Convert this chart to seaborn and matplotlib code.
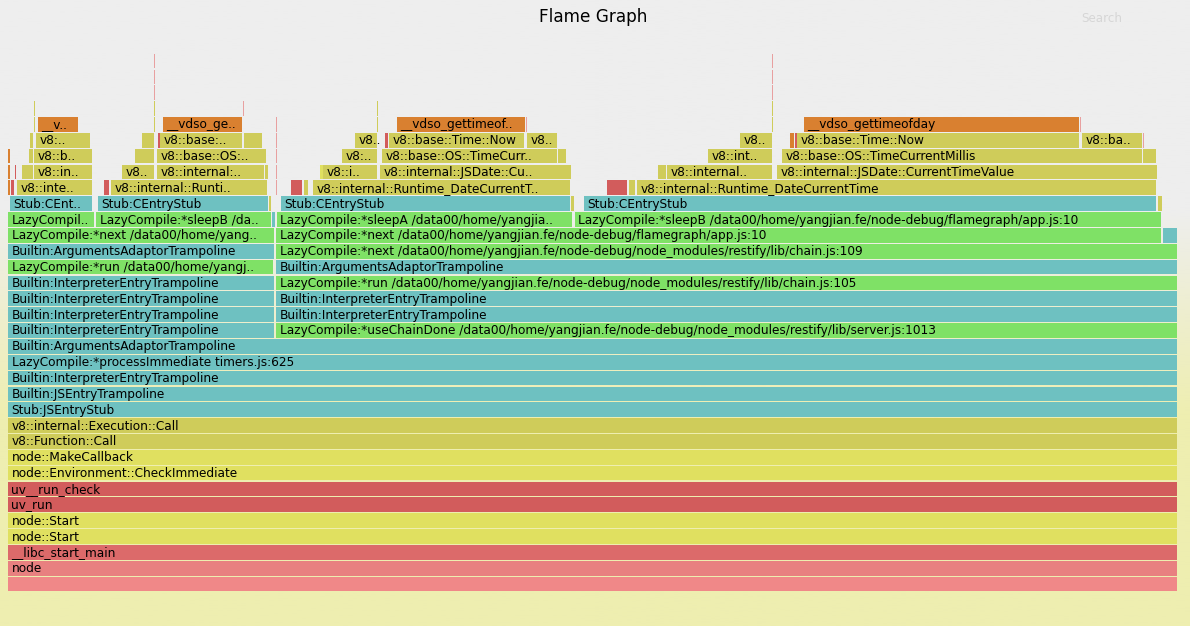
import numpy as np
import matplotlib
matplotlib.use("Agg")
import matplotlib.pyplot as plt
import matplotlib.colors as mcolors
import seaborn as sns

# Flame graph data (sample units, total = 1170)
total_samples = 1170

# bottom of the stack, every frame full width (depth 0..15)
base_labels = ["", "node", "__libc_start_main", "node::Start", "node::Start",
               "uv_run", "uv__run_check", "node::Environment::CheckImmediate",
               "node::MakeCallback", "v8::Function::Call",
               "v8::internal::Execution::Call", "Stub:JSEntryStub",
               "Builtin:JSEntryTrampoline", "Builtin:InterpreterEntryTrampoline",
               "LazyCompile:*processImmediate timers.js:625",
               "Builtin:ArgumentsAdaptorTrampoline"]
base_kinds = ["root", "node", "libc", "cpp", "cpp", "sys", "sys", "cpp", "cpp",
              "v8", "v8", "builtin", "builtin", "builtin", "builtin", "builtin"]

# (depth, start, samples, label, kind)
left_stack = [
    (16, 0, 267, "Builtin:InterpreterEntryTrampoline", "builtin"),
    (17, 0, 267, "Builtin:InterpreterEntryTrampoline", "builtin"),
    (18, 0, 267, "Builtin:InterpreterEntryTrampoline", "builtin"),
    (19, 0, 267, "Builtin:InterpreterEntryTrampoline", "builtin"),
    (20, 0, 266, "LazyCompile:*run /data00/home/yangj..", "js"),
    (21, 0, 267, "Builtin:ArgumentsAdaptorTrampoline", "builtin"),
    (22, 0, 267, "LazyCompile:*next /data00/home/yang..", "js"),
]

right_stack = [
    (16, 268, 902, "LazyCompile:*useChainDone /data00/home/yangjian.fe/node-debug/node_modules/restify/lib/server.js:1013", "js"),
    (17, 268, 902, "Builtin:InterpreterEntryTrampoline", "builtin"),
    (18, 268, 902, "Builtin:InterpreterEntryTrampoline", "builtin"),
    (19, 268, 902, "LazyCompile:*run /data00/home/yangjian.fe/node-debug/node_modules/restify/lib/chain.js:105", "js"),
    (20, 268, 902, "Builtin:ArgumentsAdaptorTrampoline", "builtin"),
    (21, 268, 902, "LazyCompile:*next /data00/home/yangjian.fe/node-debug/node_modules/restify/lib/chain.js:109", "js"),
    (22, 268, 886, "LazyCompile:*next /data00/home/yangjian.fe/node-debug/flamegraph/app.js:10", "js"),
    (22, 1155, 15, "", "builtin"),
]

sleep_frames = [
    (23, 0, 87, "LazyCompil..", "js"),
    (23, 88, 176, "LazyCompile:*sleepB /da..", "js"),
    (23, 264, 3, "", "builtin"),
    (23, 269, 296, "LazyCompile:*sleepA /data00/home/yangjia..", "js"),
    (23, 567, 587, "LazyCompile:*sleepB /data00/home/yangjian.fe/node-debug/flamegraph/app.js:10", "js"),
    (24, 2, 83, "Stub:CEnt..", "builtin"),
    (24, 90, 171, "Stub:CEntryStub", "builtin"),
    (24, 261, 2, "", "v8"),
    (24, 273, 290, "Stub:CEntryStub", "builtin"),
    (24, 563, 3, "", "v8"),
    (24, 576, 573, "Stub:CEntryStub", "builtin"),
    (24, 1150, 5, "", "v8"),
]

runtime_frames = [
    (25, 3, 4, "", "sys"),
    (25, 9, 76, "v8::inte..", "v8"),
    (25, 96, 6, "", "sys"),
    (25, 103, 157, "v8::internal::Runti..", "v8"),
    (25, 283, 12, "", "sys"),
    (25, 296, 5, "", "v8"),
    (25, 305, 258, "v8::internal::Runtime_DateCurrentT..", "v8"),
    (25, 599, 21, "", "sys"),
    (25, 621, 7, "", "v8"),
    (25, 629, 520, "v8::internal::Runtime_DateCurrentTime", "v8"),
    (26, 14, 12, "", "v8"),
    (26, 26, 59, "v8::in..", "v8"),
    (26, 114, 33, "v8..", "v8"),
    (26, 149, 108, "v8::internal:..", "v8"),
    (26, 257, 3, "", "v8"),
    (26, 312, 3, "", "cpp"),
    (26, 315, 55, "v8::i..", "v8"),
    (26, 372, 192, "v8::internal::JSDate::Cu..", "v8"),
    (26, 650, 9, "", "v8"),
    (26, 659, 106, "v8::internal..", "v8"),
    (26, 769, 381, "v8::internal::JSDate::CurrentTimeValue", "v8"),
]

time_frames = [
    (27, 21, 5, "", "v8"),
    (27, 26, 59, "v8::b..", "v8"),
    (27, 127, 20, "", "v8"),
    (27, 149, 110, "v8::base::OS:..", "v8"),
    (27, 334, 36, "v8:..", "v8"),
    (27, 374, 176, "v8::base::OS::TimeCurr..", "v8"),
    (27, 550, 9, "", "v8"),
    (27, 700, 65, "v8::int..", "v8"),
    (27, 774, 361, "v8::base::OS::TimeCurrentMillis", "v8"),
    (27, 1135, 14, "", "v8"),
    (28, 22, 4, "", "v8"),
    (28, 28, 55, "v8:..", "v8"),
    (28, 134, 13, "", "v8"),
    (28, 150, 2, "", "sys"),
    (28, 152, 83, "v8::base:..", "v8"),
    (28, 236, 19, "", "v8"),
    (28, 347, 23, "v8..", "v8"),
    (28, 377, 4, "", "sys"),
    (28, 381, 136, "v8::base::Time::Now", "v8"),
    (28, 519, 31, "v8..", "v8"),
    (28, 732, 33, "v8..", "v8"),
    (28, 782, 5, "", "kern"),
    (28, 787, 2, "", "sys"),
    (28, 789, 283, "v8::base::Time::Now", "v8"),
    (28, 1074, 61, "v8::ba..", "v8"),
    (29, 30, 41, "__v..", "kern"),
    (29, 155, 80, "__vdso_ge..", "kern"),
    (29, 389, 129, "__vdso_gettimeof..", "kern"),
    (29, 796, 276, "__vdso_gettimeofday", "kern"),
]

# very narrow towers: (start, samples, depth_from, depth_to, kind)
narrow_towers = [
    (26, 1.2, 29, 30, "v8"), (146, 1.2, 29, 30, "v8"), (146, 1.2, 31, 33, "pale"),
    (235, 1.2, 30, 30, "pale"), (268, 1.2, 25, 29, "pale"), (369, 1.2, 29, 30, "v8"),
    (518, 1.2, 29, 29, "pale"), (764, 1.2, 29, 30, "v8"), (764, 1.2, 31, 33, "pale"),
    (1072, 1.2, 29, 29, "pale"), (1135, 1.2, 28, 28, "pale"),
    (0, 1.5, 25, 27, "kern"), (7, 1.2, 26, 26, "sys"),
]

kind_colors = {
    "root": "#f08888", "node": "#e88080", "libc": "#dc6a6a", "sys": "#d25c5c",
    "cpp": "#e0e060", "v8": "#cfcc5a", "builtin": "#6ec1c1", "js": "#7fe166",
    "kern": "#d98030", "pale": "#e8a0a0",
}

sns.set_theme(style="white")
plt.rcParams["font.family"] = ["DejaVu Sans"]

W, H = 1200, 643
fig = plt.figure(figsize=(W / 100, H / 100), dpi=100)
fig.patch.set_facecolor("white")

# gradient background of the svg area
svg_w, svg_h = 1190, 626
bg = fig.add_axes([0, (H - svg_h) / H, svg_w / W, svg_h / H])
grad = np.linspace(0, 1, 256)[:, None]
cmap = mcolors.LinearSegmentedColormap.from_list("bg", ["#eeeeee", "#eeeeee", "#eeeeb0", "#eeeeb0"])
bg.imshow(grad, aspect="auto", cmap=cmap, extent=[0, 1, 0, 1], origin="upper")
bg.axis("off")

pitch = 15.85
n_rows = 36
bottom_px = 592
ax = fig.add_axes([8 / W, (H - bottom_px) / H, total_samples / W, n_rows * pitch / H])
ax.set_xlim(0, total_samples)
ax.set_ylim(0, n_rows)
ax.axis("off")
ax.patch.set_alpha(0)

frames = [(d, 0, total_samples, lab, k) for d, (lab, k) in enumerate(zip(base_labels, base_kinds))]
frames += left_stack + right_stack + sleep_frames + runtime_frames + time_frames

bar_h = 0.93
for depth, start, n, label, kind in frames:
    # small gap between neighbouring frames like the svg
    w = n - 0.8 if n > 3 else n
    ax.barh(depth + 0.035, w, left=start, height=bar_h, align="edge",
            color=kind_colors[kind], edgecolor="none", linewidth=0)
    if label:
        ax.text(start + 3.5, depth + 0.47, label, fontsize=8.75, va="center",
                ha="left", color="black", clip_on=True)

for start, n, d0, d1, kind in narrow_towers:
    for d in range(d0, d1 + 1):
        ax.barh(d + 0.035, n, left=start, height=bar_h, align="edge",
                color=kind_colors[kind], edgecolor="none", linewidth=0)

fig.text(593 / W, 1 - 17.5 / H, "Flame Graph", ha="center", va="center", fontsize=12.2, color="black")
fig.text(1081 / W, 1 - 19 / H, "Search", ha="left", va="center", fontsize=8.6, color="#d6d6d6")

fig.savefig("out.png", dpi=100)
